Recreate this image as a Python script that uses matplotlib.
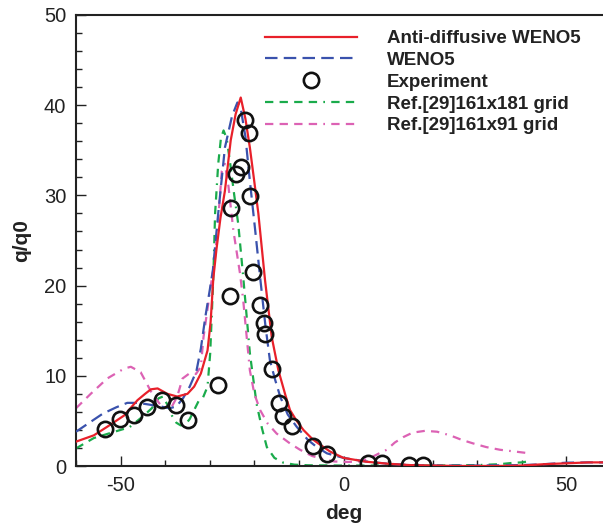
import matplotlib
matplotlib.use("Agg")
import matplotlib.pyplot as plt
from matplotlib.ticker import MultipleLocator

plt.rcParams["font.family"] = ["Liberation Sans", "DejaVu Sans"]
plt.rcParams["axes.unicode_minus"] = False
plt.rcParams["lines.scale_dashes"] = False

# Experiment
exp_x = [-53.6, -50.2, -46.9, -44.0, -40.7, -37.5, -34.8, -28.2, -25.4, -25.3,
         -24.2, -23.0, -22.2, -21.1, -21.0, -20.3, -18.8, -17.9, -17.6, -16.0,
         -14.4, -13.5, -11.5, -6.9, -3.7, 5.6, 8.6, 14.8, 17.9]
exp_y = [4.1, 5.2, 5.6, 6.5, 7.3, 6.8, 5.1, 9.0, 18.8, 28.6,
         32.4, 33.1, 38.4, 36.9, 29.9, 21.5, 17.8, 15.8, 14.6, 10.8,
         7.0, 5.5, 4.4, 2.2, 1.3, 0.37, 0.3, 0.1, 0.1]

# Anti-diffusive WENO5
red_x = [-60, -56, -53, -49.2, -46.2, -44.5, -43.2, -41.7, -39.5, -37.3, -35, -33.5,
         -32, -30.5, -29.8, -29.2, -28.5, -27.6, -26.6, -25.3, -24.2, -23.05, -22, -21,
         -20, -19.1, -17.6, -16.1, -14.6, -13, -12, -10.5, -9, -7, -5.65, -3, 0,
         5, 10, 15, 20, 25, 30, 35, 40, 45, 50, 55, 60]
red_y = [2.7, 3.4, 4.35, 5.6, 7.3, 8.0, 8.5, 8.6, 8.0, 7.7, 8.0, 8.8,
         10.25, 12.8, 16.0, 20.8, 24.0, 27.5, 30.5, 36.1, 39.0, 40.85, 38.5, 35.3,
         31.5, 28.0, 20.6, 14.3, 10.6, 7.8, 6.2, 5.0, 4.0, 3.0, 2.5, 1.6, 0.9,
         0.48, 0.25, 0.1, 0.05, 0.0, 0.0, 0.0, 0.05, 0.2, 0.3, 0.4, 0.4]

# WENO5
blue_x = [-60, -57, -54, -51, -48.5, -46, -43.5, -41, -39, -37.5, -36, -34.5, -33,
          -32, -31, -30, -29.3, -28.1, -26.6, -25, -23.8, -23, -22, -21, -19.8,
          -18.7, -17.5, -16.5, -15.3, -14.2, -12.5, -10.5, -8, -6, -3.7, 0, 5, 10,
          15, 20, 30, 40, 45, 50, 55, 60]
blue_y = [3.8, 4.8, 5.8, 6.5, 7.0, 7.0, 6.8, 6.6, 6.4, 6.6, 7.5, 8.8, 10.5,
          13.0, 16.5, 19.5, 21.7, 28.0, 35.3, 38.8, 40.3, 39.5, 36.5, 31.6, 26.1,
          20.9, 15.5, 11.7, 9.5, 7.7, 5.7, 4.35, 2.9, 2.1, 1.4, 0.9, 0.5, 0.25,
          0.1, 0.05, 0.05, 0.1, 0.2, 0.37, 0.4, 0.4]

# Ref.[29] 161x181 grid
green_x = [-60, -56, -52, -48, -45, -43, -41.5, -40.5, -39.5, -38.5, -37.5, -36.5,
           -35.5, -34.5, -33.5, -32.5, -31.5, -30.5, -29.9, -29.2, -28.8, -28.1,
           -27.5, -26.9, -26.2, -25.4, -24.5, -23.6, -22.5, -21.0, -19.5, -18.3,
           -17.2, -15.5, -13.5, -11, -8, 0, 10, 20, 30, 35, 38, 40, 42]
green_y = [1.95, 3.1, 3.7, 4.3, 5.5, 6.4, 7.5, 7.7, 6.8, 5.6, 4.8, 4.5,
           4.6, 5.2, 6.2, 7.2, 7.6, 8.8, 12.5, 20.9, 28.0, 33.5,
           36.3, 37.2, 36.3, 33.5, 30.0, 26.8, 21.0, 12.5, 6.9, 4.2,
           2.1, 0.9, 0.37, 0.15, 0.08, 0.05, 0.05, 0.05, 0.1, 0.2, 0.35, 0.4, 0.55]

# Ref.[29] 161x91 grid
pink_x = [-60, -56.7, -53, -49.2, -47.7, -45.5, -44.3, -42.9, -41, -38.7, -37.3,
          -36.1, -34.6, -33.1, -32, -31.4, -29.9, -28.8, -28, -27.3, -26.6, -25.8,
          -24.7, -23.2, -22.5, -21.0, -20, -18.7, -17, -15, -12, -9.75, -7, -4, -2,
          1, 3.7, 6, 8, 9.7, 11.5, 13.4, 15.5, 18.3, 21, 23.9, 26.5, 29.1, 32,
          35.1, 38.5, 41.8]
pink_y = [6.4, 8.0, 9.7, 10.8, 11.0, 10.4, 9.3, 8.0, 6.75, 6.4, 7.7,
          9.7, 10.25, 10.2, 11.0, 14.3, 19.5, 23.2, 28.0, 32.7, 33.5, 31.0,
          26.1, 21.3, 18.4, 10.6, 8.0, 6.2, 4.7, 3.6, 2.5, 1.8, 1.1, 0.7, 0.5,
          0.45, 0.5, 0.9, 1.4, 1.8, 2.6, 3.2, 3.7, 3.9, 3.8, 3.4, 2.9, 2.5, 2.1,
          1.8, 1.6, 1.4]

W, H = 603, 524
fig = plt.figure(figsize=(W / 100, H / 100), dpi=100)
ax = fig.add_axes([76 / W, 58 / H, (611 - 76) / W, (466 - 15) / H])

ax.plot(green_x, green_y, color="#1aab4b", lw=1.6,
        dashes=(6, 4.5, 6, 4.5, 6, 4.5, 6, 4.5, 1.2, 4.5),
        label="Ref.[29]161x181 grid", zorder=2)
ax.plot(pink_x, pink_y, color="#dc62b4", lw=1.6,
        dashes=(6, 4.5, 6, 4.5, 6, 4.5, 6, 4.5, 1.2, 4.5),
        label="Ref.[29]161x91 grid", zorder=2)
ax.plot(blue_x, blue_y, color="#3a52ad", lw=1.6, dashes=(9, 4.5),
        label="WENO5", zorder=3)
ax.plot(red_x, red_y, color="#e8202a", lw=1.6, label="Anti-diffusive WENO5", zorder=4)
ax.plot(exp_x, exp_y, linestyle="none", marker="o", ms=11, mew=1.9,
        mfc="none", mec="#111111", label="Experiment", zorder=5)

ax.set_xlim(-60, 60)
ax.set_ylim(0, 50)
ax.xaxis.set_major_locator(MultipleLocator(50))
ax.xaxis.set_minor_locator(MultipleLocator(10))
ax.yaxis.set_major_locator(MultipleLocator(10))
ax.yaxis.set_minor_locator(MultipleLocator(2))
ax.tick_params(which="both", direction="in", width=1.0, colors="#222222",
               labelsize=14.5, labelcolor="#222222")
ax.tick_params(which="major", length=7, pad=7)
ax.tick_params(which="minor", length=4.5)
for sp in ax.spines.values():
    sp.set_linewidth(1.5)
    sp.set_color("#222222")

ax.set_xlabel("deg", fontsize=15, fontweight="bold", labelpad=6.5, color="#222222")
ax.set_ylabel("q/q0", fontsize=15, fontweight="bold", labelpad=9.5, color="#222222")

h, l = ax.get_legend_handles_labels()
order = ["Anti-diffusive WENO5", "WENO5", "Experiment",
         "Ref.[29]161x181 grid", "Ref.[29]161x91 grid"]
hm = dict(zip(l, h))
leg = ax.legend([hm[k] for k in order], order, loc="upper left",
                bbox_to_anchor=(265 / W, 1 - 30 / H), bbox_transform=fig.transFigure,
                frameon=False, handlelength=4.9, handletextpad=1.6,
                labelspacing=0.25, borderpad=0, borderaxespad=0, numpoints=1,
                prop={"weight": "bold", "size": 13.5})
for t in leg.get_texts():
    t.set_color("#222222")

fig.savefig("out.png", dpi=100)
plt.close(fig)
